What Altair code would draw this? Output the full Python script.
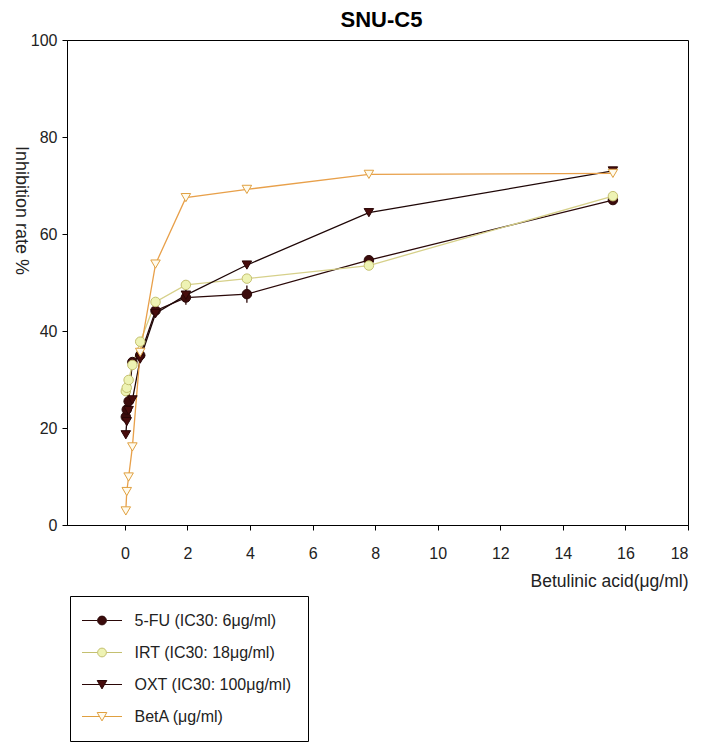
import altair as alt
import pandas as pd

# ---- data ----
conc = [0.03, 0.06, 0.12, 0.24, 0.49, 0.98, 1.95, 3.9, 7.8, 15.6]
series_names = ["5-FU (IC30: 6μg/ml)", "IRT (IC30: 18μg/ml)",
                "OXT (IC30: 100μg/ml)", "BetA (μg/ml)"]
fu_vals = [22.3, 23.8, 25.5, 33.6, 35.0, 44.2, 46.9, 47.6, 54.6, 67.0]
irt_vals = [27.6, 28.3, 29.9, 33.0, 37.8, 46.0, 49.5, 50.8, 53.5, 67.8]
oxt_vals = [18.6, 21.3, 23.6, 25.8, 34.2, 43.6, 47.4, 53.6, 64.4, 73.0]
beta_vals = [2.9, 6.9, 9.9, 16.1, 35.6, 53.8, 67.5, 69.2, 72.3, 72.5]
fu_err = [0, 0, 0, 0, 0, 0, 1.5, 1.8, 0, 0]
irt_err = [0, 0, 0, 0, 0, 0, 0, 0, 0, 0]
oxt_err = [0, 0, 0, 0, 0, 0.8, 1.0, 0, 0, 0]
beta_err = [0, 0, 0, 0, 0, 0, 0, 0, 0, 0]
x_ticks = [0, 2, 4, 6, 8, 10, 12, 14, 16, 18]
y_ticks = [0, 20, 40, 60, 80, 100]

# ---- styles ----
line_colors = ["#2a0808", "#d6d08a", "#1e0606", "#e8a04a"]
marker_fill = ["#3b0b0b", "#eef3b4", "#470c0c", "#fffbee"]
marker_stroke = ["#2a0808", "#c4c070", "#2a0606", "#e0a040"]
shapes = ["circle", "circle", "triangle-down", "triangle-down"]
legend_paths = [
    "M-2.5,0H-0.55M0.55,0H2.5M-0.55,0A0.55,0.55 0 1,0 0.55,0A0.55,0.55 0 1,0 -0.55,0Z",
    "M-2.5,0H-0.55M0.55,0H2.5M-0.55,0A0.55,0.55 0 1,0 0.55,0A0.55,0.55 0 1,0 -0.55,0Z",
    "M-2.5,0H-0.31M0.31,0H2.5M-0.6,-0.5L0.6,-0.5L0,0.55Z",
    "M-2.5,0H-0.31M0.31,0H2.5M-0.6,-0.5L0.6,-0.5L0,0.55Z",
]

rows = []
for name, vals, errs in zip(series_names,
                            [fu_vals, irt_vals, oxt_vals, beta_vals],
                            [fu_err, irt_err, oxt_err, beta_err]):
    for c, v, e in zip(conc, vals, errs):
        rows.append({"series": name, "x": c, "y": v, "err": e,
                     "lo": v - e, "hi": v + e})
df = pd.DataFrame(rows)

FONT = "Liberation Sans, Arial"

x_enc = alt.X("x:Q", scale=alt.Scale(domain=[-1.85, 18], nice=False, zero=False),
              axis=alt.Axis(values=x_ticks, title="Betulinic acid(μg/ml)",
                            titleAlign="right", titleFontSize=17.5,
                            titleX=621, titleY=56, titleBaseline="middle",
                            labelPadding=15, tickSize=5, grid=False))
y_enc = alt.Y("y:Q", scale=alt.Scale(domain=[0, 100], nice=False),
              axis=alt.Axis(values=y_ticks, title="Inhibition rate %",
                            titleAngle=90, titleX=-47, titleY=170, titleFontSize=18,
                            titleAlign="center", titleBaseline="middle",
                            labelPadding=5, tickSize=5, grid=False))

base = alt.Chart(df)

lines = base.mark_line(strokeWidth=1.3).encode(
    x=x_enc, y=y_enc, detail="series:N",
    color=alt.Color("series:N", scale=alt.Scale(domain=series_names, range=line_colors),
                    legend=None),
    order="x:Q",
)

errs = base.transform_filter("datum.err > 0").mark_rule(strokeWidth=1.3).encode(
    x="x:Q", y="lo:Q", y2="hi:Q",
    color=alt.Color("series:N", scale=alt.Scale(domain=series_names, range=line_colors),
                    legend=None),
)

points = base.mark_point(filled=True, opacity=1, size=90, strokeWidth=1).encode(
    x="x:Q", y="y:Q",
    shape=alt.Shape("series:N", scale=alt.Scale(domain=series_names, range=shapes), legend=None),
    fill=alt.Fill("series:N", scale=alt.Scale(domain=series_names, range=marker_fill), legend=None),
    stroke=alt.Stroke("series:N", scale=alt.Scale(domain=series_names, range=marker_stroke), legend=None),
)

leg = alt.Legend(title=None, orient="none", legendX=3, legendY=556,
                 strokeColor="black", fillColor="white", padding=16,
                 symbolSize=256, symbolOffset=7.5, labelOffset=24, rowPadding=15,
                 symbolStrokeWidth=1, symbolOpacity=1,
                 labelFont=FONT, labelFontSize=16, labelColor="#222", labelLimit=300)

legend_layer = base.transform_filter("datum.x < -100").mark_point(
    filled=True, opacity=1, strokeWidth=1).encode(
    x="x:Q", y="y:Q",
    shape=alt.Shape("series:N", scale=alt.Scale(domain=series_names, range=legend_paths),
                    legend=leg),
    fill=alt.Fill("series:N", scale=alt.Scale(domain=series_names, range=marker_fill),
                  legend=leg),
    stroke=alt.Stroke("series:N", scale=alt.Scale(domain=series_names, range=marker_stroke),
                      legend=leg),
)

chart = alt.layer(lines, errs, points, legend_layer).resolve_scale(
    shape="independent", fill="independent", stroke="independent"
).properties(
    width=621, height=485,
    title=alt.TitleParams("SNU-C5", fontSize=22, fontWeight="bold",
                          font="Liberation Sans, Arial", offset=12, anchor="middle",
                          color="black", dx=4, dy=12),
    padding={"left": 67, "top": 40, "right": 13, "bottom": 217},
    autosize=alt.AutoSizeParams(type="none"),
    background="white",
).configure_view(
    stroke="black", strokeWidth=1
).configure_axis(
    labelFont=FONT, labelFontSize=16, labelColor="#222",
    titleFont=FONT, titleFontWeight="normal", titleColor="#222",
    domainColor="black", tickColor="black", domainWidth=1, tickWidth=1,
)

chart.save("out.html", embed_options={"renderer": "svg", "actions": False})
